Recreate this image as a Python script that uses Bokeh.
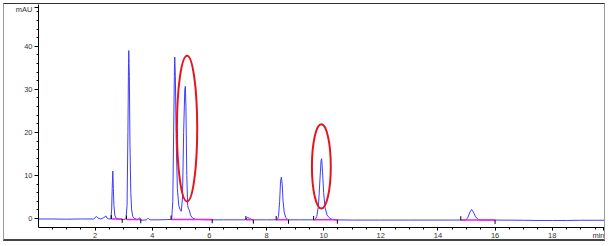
from bokeh.plotting import figure
from bokeh.models import FixedTicker, Range1d
from bokeh.embed import file_html
from bokeh.resources import INLINE

# Chromatogram trace vertices (time in min, signal in mAU)
time_min = [0.02, 0.5, 1.0, 1.5, 1.95, 2.05, 2.1, 2.2, 2.3, 2.38, 2.42, 2.48, 2.55,
            2.58, 2.60, 2.62, 2.64, 2.66, 2.69, 2.73, 2.85, 3.0, 3.08,
            3.12, 3.15, 3.17, 3.18, 3.20, 3.22, 3.25, 3.28, 3.32, 3.38, 3.5, 3.56, 3.62,
            3.8, 3.86, 3.92, 4.2, 4.5, 4.68,
            4.72, 4.75, 4.78, 4.79, 4.81, 4.84, 4.88, 4.93, 4.98, 5.02, 5.06, 5.10, 5.14,
            5.16, 5.18, 5.21, 5.24, 5.27, 5.30, 5.34, 5.40, 5.5, 6.0, 6.5, 7.0, 7.25,
            7.32, 7.4, 7.5, 8.0, 8.38,
            8.42, 8.46, 8.49, 8.52, 8.55, 8.58, 8.62, 8.67, 8.75, 9.2, 9.70,
            9.76, 9.82, 9.87, 9.91, 9.93, 9.96, 10.0, 10.05, 10.12, 10.22, 10.35, 11.0,
            12.0, 13.0, 14.0, 14.98, 15.05, 15.12, 15.18, 15.24, 15.32, 15.42, 16.0,
            17.0, 17.5, 18.0, 18.5, 19.0, 19.9]
signal_mau = [-0.1, -0.1, -0.15, -0.1, -0.1, 0.5, 0.1, -0.1, 0.2, 0.6, 0.1, -0.1, -0.1,
              2.0, 7.0, 11.0, 7.0, 3.0, 0.8, 0.1, -0.2, -0.2, -0.1,
              3.0, 20.0, 36.0, 39.0, 33.0, 18.0, 6.0, 2.0, 0.5, 0.0, -0.3, 0.2, -0.4,
              -0.3, 0.1, -0.3, -0.3, -0.25, -0.2,
              4.0, 20.0, 36.0, 37.5, 33.0, 18.0, 7.0, 3.0, 2.0, 1.7, 5.0, 20.0, 30.0,
              30.7, 26.0, 10.0, 3.0, 2.2, 2.0, 0.8, 0.2, -0.2, -0.3, -0.3, -0.3, -0.3,
              0.2, 0.1, -0.3, -0.3, -0.3,
              0.5, 4.0, 8.5, 9.6, 8.0, 4.0, 1.5, 0.3, -0.3, -0.3, -0.3,
              0.5, 3.0, 9.0, 13.5, 13.9, 11.0, 6.0, 2.5, 0.8, 0.0, -0.3, -0.35,
              -0.35, -0.35, -0.35, -0.35, 0.3, 1.5, 2.1, 1.5, 0.4, -0.3, -0.35,
              -0.4, -0.45, -0.45, -0.45, -0.4, -0.4]

# Integration baselines (start, end, level)
integ_start = [2.57, 3.10, 4.66, 7.28, 8.34, 9.65, 14.80]
integ_end = [2.95, 3.60, 6.10, 7.54, 8.77, 10.48, 16.00]
integ_level = [-0.1, -0.2, -0.2, -0.3, -0.3, -0.3, -0.35]

# Highlight ellipses
ell_x = [5.22, 9.92]
ell_y = [20.9, 12.1]
ell_w = [0.71, 0.66]
ell_h = [33.9, 19.6]

# Axis ticks and unit labels
x_major = [2, 4, 6, 8, 10, 12, 14, 16, 18]
x_unit_pos = 19.8
x_minor = [i * 0.5 for i in range(1, 40)]
y_major = [0, 10, 20, 30, 40]
y_unit_pos = 49
y_minor = [i * 2 for i in range(0, 25)]

p = figure(width=602, height=238, output_backend="svg", toolbar_location=None,
           x_range=Range1d(0.02, 19.9), y_range=Range1d(-2.08, 49.7),
           min_border_left=34, min_border_right=0, min_border_top=0, min_border_bottom=11)
p.styles = {"margin-left": "3px", "margin-top": "3px",
            "border-top": "1px solid #333333", "border-left": "1px solid #999999",
            "border-right": "1px solid #999999", "border-bottom": "2px solid #444444"}
p.outline_line_color = None
p.xgrid.visible = False
p.ygrid.visible = False
p.background_fill_color = "white"

p.line(time_min, signal_mau, line_color="#3c3cff", line_width=1)

p.segment(x0=integ_start, y0=integ_level, x1=integ_end, y1=integ_level,
          line_color="#ee22ee", line_width=1.5)
p.segment(x0=integ_start, y0=integ_level, x1=integ_start,
          y1=[v + 0.9 for v in integ_level], line_color="black", line_width=1)
p.segment(x0=integ_end, y0=integ_level, x1=integ_end,
          y1=[v - 0.9 for v in integ_level], line_color="black", line_width=1)

p.ellipse(x=ell_x, y=ell_y, width=ell_w, height=ell_h, fill_color=None,
          line_color="#e8141c", line_width=2)

for ax in (p.xaxis[0], p.yaxis[0]):
    ax.axis_line_color = "black"
    ax.major_tick_line_color = "black"
    ax.minor_tick_line_color = "black"
    ax.major_tick_in = 0
    ax.minor_tick_in = 0
    ax.major_label_text_font = "Liberation Sans"
    ax.major_label_text_font_size = "7.5px"
    ax.major_label_text_color = "#333333"

p.xaxis[0].ticker = FixedTicker(ticks=x_major + [x_unit_pos], minor_ticks=x_minor)
p.xaxis[0].major_label_overrides = {x_unit_pos: "min"}
p.xaxis[0].major_tick_out = 3
p.xaxis[0].minor_tick_out = 2
p.xaxis[0].major_label_standoff = 0

p.yaxis[0].ticker = FixedTicker(ticks=y_major + [y_unit_pos], minor_ticks=y_minor)
p.yaxis[0].major_label_overrides = {y_unit_pos: "mAU"}
p.yaxis[0].major_tick_out = 4
p.yaxis[0].minor_tick_out = 2
p.yaxis[0].major_label_standoff = 2

open("out.html", "w").write(file_html(p, INLINE))
